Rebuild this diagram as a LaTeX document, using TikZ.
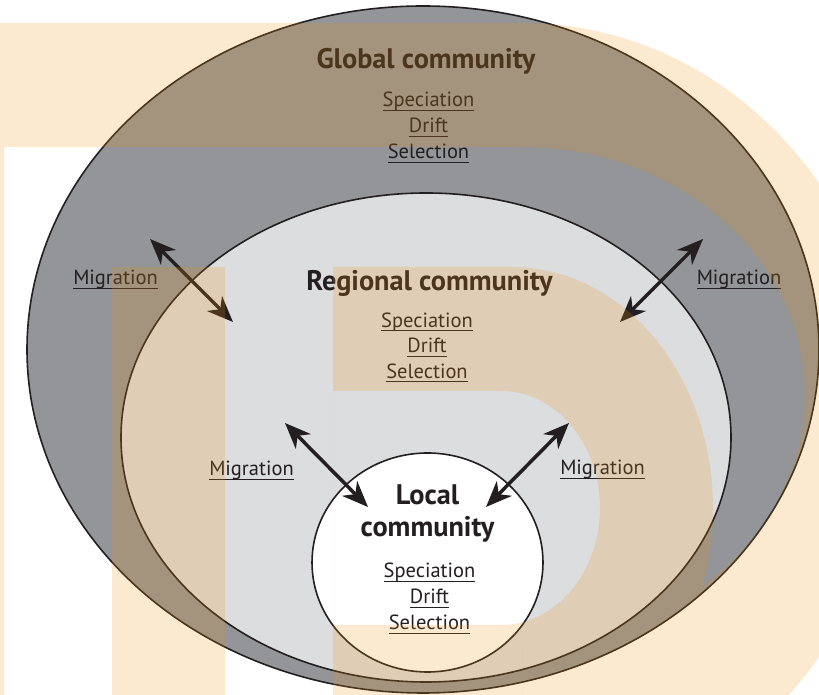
\documentclass[tikz,border=0pt]{standalone}
\usepackage{fontspec}
\setmainfont{PT Sans}
\usetikzlibrary{arrows.meta}
\definecolor{ink}{RGB}{35,31,32}
\definecolor{ringgray}{RGB}{147,149,152}
\definecolor{regiongray}{RGB}{220,221,223}
\definecolor{tint}{RGB}{235,145,20}
\newcommand\undl[1]{\setbox0=\hbox{#1}\rlap{\rule[-4pt]{\wd0}{1.2pt}}\box0}

\begin{document}
\begin{tikzpicture}[x=1pt,y=1pt,
  title/.style={font=\fontsize{28.3}{32}\selectfont\bfseries, text=ink, anchor=base, inner sep=0pt},
  proc/.style={font=\fontsize{20.5}{24}\selectfont, text=ink, anchor=base, inner sep=0pt},
  rim/.style={line width=1.6pt, draw=ink},
  migr/.style={{Stealth[length=26pt,width=21pt,inset=8pt]}-{Stealth[length=26pt,width=21pt,inset=8pt]}, line width=3.5pt, draw=ink}]
\useasboundingbox (0,0) rectangle (819,695);
\fill[white] (0,0) rectangle (819,695);

% the three communities
\draw[rim, fill=ringgray] (423,345.5) ellipse (396 and 343.5);
\draw[rim, fill=regiongray] (426,257.5) ellipse (305 and 244.5);
\draw[rim, fill=white] (427.5,132.5) ellipse (115.5 and 109.5);

\node[title] (globaltitle) at (426,626) {Global community};
\node[title] (regiontitle) at (429.5,404) {Regional community};
\node[title] (localtitle) at (427.5,190) {Local};
\node[title] (localtitleb) at (427.5,158) {community};

\foreach \w [count=\i] in {Speciation,Drift,Selection} {
  \node[proc] (glob\i) at (428.5,614-26*\i) {\undl{\w}};
  \node[proc] (reg\i) at (427,393-25.5*\i) {\undl{\w}};
  \node[proc] (loc\i) at (429.5,143-26*\i) {\undl{\w}};
}

\node[proc] (migul) at (115.5,410) {\undl{Migration}};
\node[proc] (migur) at (739,410) {\undl{Migration}};
\node[proc] (migll) at (251.5,219) {\undl{Migration}};
\node[proc] (miglr) at (602.5,220) {\undl{Migration}};

% migration arrows
\coordinate (ulout) at (150,456); \coordinate (ulin) at (233,373);
\coordinate (urout) at (703,456); \coordinate (urin) at (620,373);
\coordinate (llout) at (285,272); \coordinate (llin) at (368,188);
\coordinate (lrout) at (569,272); \coordinate (lrin) at (486,188);
\draw[migr] (ulout) -- (ulin);
\draw[migr] (urout) -- (urin);
\draw[migr] (llout) -- (llin);
\draw[migr] (lrout) -- (lrin);

% light letter shapes laid over everything
\begin{scope}[fill=tint, fill opacity=0.2]
\fill[even odd rule] (0,672) -- (522,672) arc[start angle=90, end angle=-90, x radius=370, y radius=397] -- (0,-122) -- cycle
  (4,548) -- (522,548) arc[start angle=90, end angle=-90, x radius=283, y radius=248] -- (522,-20) -- (4,-20) -- cycle;
\begin{scope}
\clip (4,548) -- (522,548) arc[start angle=90, end angle=-90, x radius=283, y radius=248] -- (522,-20) -- (4,-20) -- cycle;
\fill (112,428) rectangle (225,-10);
\fill[even odd rule] (333,428) -- (512,428) arc[start angle=90, end angle=-90, x radius=201, y radius=241] -- (333,-54) -- cycle
  (333,304) -- (501,304) arc[start angle=90, end angle=-90, x radius=99, y radius=117] -- (333,70) -- cycle;
\end{scope}
\end{scope}

\end{tikzpicture}
\end{document}
